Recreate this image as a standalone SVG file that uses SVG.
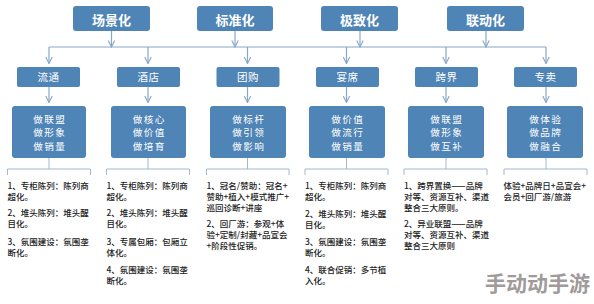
<svg xmlns="http://www.w3.org/2000/svg" width="594" height="304" viewBox="0 0 594 304">
<defs>
<style>
.box{fill:#4f84b6;}
.t1{font-family:"Noto Sans CJK SC","Liberation Sans",sans-serif;font-size:13px;font-weight:bold;fill:#fff;text-anchor:middle;}
.t2{font-family:"Noto Sans CJK SC","Liberation Sans",sans-serif;font-size:10.5px;fill:#fff;text-anchor:middle;letter-spacing:0.5px;}
.t3{font-family:"Noto Sans CJK SC","Liberation Sans",sans-serif;font-size:9.6px;fill:#fff;text-anchor:middle;letter-spacing:1.4px;}
.tx{font-family:"Noto Sans CJK SC","Liberation Sans",sans-serif;font-size:8.5px;font-weight:500;fill:#222;}
.ln{fill:none;stroke:#87a7c9;stroke-width:1.2;}
.br{fill:none;stroke:#a3b8cf;stroke-width:1;}
.wm{font-family:"Noto Sans CJK SC",sans-serif;font-size:21px;font-weight:bold;fill:#a09a9a;}
</style>
<marker id="arr" viewBox="0 0 10 10" refX="9" refY="5" markerWidth="8" markerHeight="8" orient="auto" markerUnits="userSpaceOnUse">
<path d="M1,1 L9,5 L1,9" fill="none" stroke="#87a7c9" stroke-width="1.4"/>
</marker>
</defs>
<rect width="594" height="304" fill="#fff"/>

<g id="connectors">
<line class="ln" x1="111.5" y1="31" x2="111.5" y2="47" marker-end="url(#arr)"/>
<line class="ln" x1="235" y1="31" x2="235" y2="47" marker-end="url(#arr)"/>
<line class="ln" x1="360" y1="31" x2="360" y2="47" marker-end="url(#arr)"/>
<line class="ln" x1="486" y1="31" x2="486" y2="47" marker-end="url(#arr)"/>
<line class="ln" x1="49" y1="47" x2="546" y2="47"/>
<line class="ln" x1="49" y1="47" x2="49" y2="63.5" marker-end="url(#arr)"/>
<line class="ln" x1="148" y1="47" x2="148" y2="63.5" marker-end="url(#arr)"/>
<line class="ln" x1="247.5" y1="47" x2="247.5" y2="63.5" marker-end="url(#arr)"/>
<line class="ln" x1="346.5" y1="47" x2="346.5" y2="63.5" marker-end="url(#arr)"/>
<line class="ln" x1="446" y1="47" x2="446" y2="63.5" marker-end="url(#arr)"/>
<line class="ln" x1="546" y1="47" x2="546" y2="63.5" marker-end="url(#arr)"/>
<line class="ln" x1="49" y1="87" x2="49" y2="102.5" marker-end="url(#arr)"/>
<line class="ln" x1="148" y1="87" x2="148" y2="102.5" marker-end="url(#arr)"/>
<line class="ln" x1="247.5" y1="87" x2="247.5" y2="102.5" marker-end="url(#arr)"/>
<line class="ln" x1="346.5" y1="87" x2="346.5" y2="102.5" marker-end="url(#arr)"/>
<line class="ln" x1="446" y1="87" x2="446" y2="102.5" marker-end="url(#arr)"/>
<line class="ln" x1="546" y1="87" x2="546" y2="102.5" marker-end="url(#arr)"/>
<path class="br" d="M49,158 V169 M7.5,175 V169 H90.5 V175"/>
<path class="br" d="M148,158 V169 M106.5,175 V169 H189.5 V175"/>
<path class="br" d="M247.5,158 V169 M206.5,175 V169 H289 V175"/>
<path class="br" d="M346.5,158 V169 M305,175 V169 H388 V175"/>
<path class="br" d="M446,158 V169 M404,175 V169 H487 V175"/>
<path class="br" d="M546,158 V169 M504,175 V169 H587 V175"/>
</g>

<g id="n-changjing"><rect class="box" x="73" y="6" width="77" height="25" rx="3"/><text class="t1" x="111.5" y="24.6">场景化</text></g>
<g id="n-biaozhun"><rect class="box" x="197" y="6" width="76" height="25" rx="3"/><text class="t1" x="235" y="24.6">标准化</text></g>
<g id="n-jizhi"><rect class="box" x="321" y="6" width="77" height="25" rx="3"/><text class="t1" x="359.5" y="24.6">极致化</text></g>
<g id="n-liandong"><rect class="box" x="447" y="6" width="77" height="25" rx="3"/><text class="t1" x="485.5" y="24.6">联动化</text></g>

<g id="n-liutong"><rect class="box" x="17" y="67" width="63" height="20" rx="2"/><text class="t2" x="48.5" y="81">流通</text></g>
<g id="n-jiudian"><rect class="box" x="117" y="67" width="63" height="20" rx="2"/><text class="t2" x="148.5" y="81">酒店</text></g>
<g id="n-tuangou"><rect class="box" x="216.5" y="67" width="63" height="20" rx="2"/><text class="t2" x="248" y="81">团购</text></g>
<g id="n-yanxi"><rect class="box" x="316" y="67" width="63" height="20" rx="2"/><text class="t2" x="347.5" y="81">宴席</text></g>
<g id="n-kuajie"><rect class="box" x="415" y="67" width="63" height="20" rx="2"/><text class="t2" x="446.5" y="81">跨界</text></g>
<g id="n-zhuanmai"><rect class="box" x="514" y="67" width="63" height="20" rx="2"/><text class="t2" x="545.5" y="81">专卖</text></g>

<g id="m-liutong"><rect class="box" x="12" y="106" width="74" height="52" rx="3"/>
<text class="t3" x="49.7" y="122.6">做联盟</text><text class="t3" x="49.7" y="136.1">做形象</text><text class="t3" x="49.7" y="149.6">做销量</text></g>
<g id="m-jiudian"><rect class="box" x="111" y="106" width="75" height="52" rx="3"/>
<text class="t3" x="149.2" y="122.6">做核心</text><text class="t3" x="149.2" y="136.1">做价值</text><text class="t3" x="149.2" y="149.6">做培育</text></g>
<g id="m-tuangou"><rect class="box" x="210" y="106" width="76" height="52" rx="3"/>
<text class="t3" x="248.7" y="122.6">做标杆</text><text class="t3" x="248.7" y="136.1">做引领</text><text class="t3" x="248.7" y="149.6">做影响</text></g>
<g id="m-yanxi"><rect class="box" x="309" y="106" width="76" height="52" rx="3"/>
<text class="t3" x="347.7" y="122.6">做价值</text><text class="t3" x="347.7" y="136.1">做流行</text><text class="t3" x="347.7" y="149.6">做销量</text></g>
<g id="m-kuajie"><rect class="box" x="408" y="106" width="76" height="52" rx="3"/>
<text class="t3" x="446.7" y="122.6">做联盟</text><text class="t3" x="446.7" y="136.1">做形象</text><text class="t3" x="446.7" y="149.6">做互补</text></g>
<g id="m-zhuanmai"><rect class="box" x="507" y="106" width="76" height="52" rx="3"/>
<text class="t3" x="545.7" y="122.6">做体验</text><text class="t3" x="545.7" y="136.1">做品牌</text><text class="t3" x="545.7" y="149.6">做融合</text></g>

<g id="d-liutong">
<text class="tx" x="7.5" y="188.7">1、专柜陈列：陈列商</text>
<text class="tx" x="7.5" y="199.7">超化。</text>
<text class="tx" x="7.5" y="216.3">2、堆头陈列：堆头醒</text>
<text class="tx" x="7.5" y="227.3">目化。</text>
<text class="tx" x="7.5" y="244.7">3、氛围建设：氛围垄</text>
<text class="tx" x="7.5" y="255.7">断化。</text>
</g>
<g id="d-jiudian">
<text class="tx" x="106.5" y="188.7">1、专柜陈列：陈列商</text>
<text class="tx" x="106.5" y="199.7">超化。</text>
<text class="tx" x="106.5" y="216.3">2、堆头陈列：堆头醒</text>
<text class="tx" x="106.5" y="227.3">目化。</text>
<text class="tx" x="106.5" y="244.7">3、专属包厢：包厢立</text>
<text class="tx" x="106.5" y="255.7">体化。</text>
<text class="tx" x="106.5" y="273">4、氛围建设：氛围垄</text>
<text class="tx" x="106.5" y="284">断化。</text>
</g>
<g id="d-tuangou">
<text class="tx" x="206.5" y="188.7">1、冠名/赞助：冠名+</text>
<text class="tx" x="206.5" y="199.7">赞助+植入+模式推广+</text>
<text class="tx" x="206.5" y="210.7">巡回诊断+讲座</text>
<text class="tx" x="206.5" y="227">2、回厂游：参观+体</text>
<text class="tx" x="206.5" y="238">验+定制/封藏+品宣会</text>
<text class="tx" x="206.5" y="249">+阶段性促销。</text>
</g>
<g id="d-yanxi">
<text class="tx" x="305" y="188.7">1、专柜陈列：陈列商</text>
<text class="tx" x="305" y="199.7">超化。</text>
<text class="tx" x="305" y="216.8">2、堆头陈列：堆头醒</text>
<text class="tx" x="305" y="227.8">目化。</text>
<text class="tx" x="305" y="244.7">3、氛围建设：氛围垄</text>
<text class="tx" x="305" y="255.7">断化。</text>
<text class="tx" x="305" y="273">4、联合促销：多节植</text>
<text class="tx" x="305" y="284">入化。</text>
</g>
<g id="d-kuajie">
<text class="tx" x="404" y="188.7">1、跨界置换——品牌</text>
<text class="tx" x="404" y="200">对等、资源互补、渠道</text>
<text class="tx" x="404" y="211">整合三大原则。</text>
<text class="tx" x="404" y="227">2、异业联盟——品牌</text>
<text class="tx" x="404" y="238">对等、资源互补、渠道</text>
<text class="tx" x="404" y="249">整合三大原则</text>
</g>
<g id="d-zhuanmai">
<text class="tx" x="503.5" y="188.7">体验+品牌日+品宣会+</text>
<text class="tx" x="503.5" y="200">会员+回厂游/旅游</text>
</g>

<text class="wm" x="485" y="291">手动动手游</text>
</svg>
